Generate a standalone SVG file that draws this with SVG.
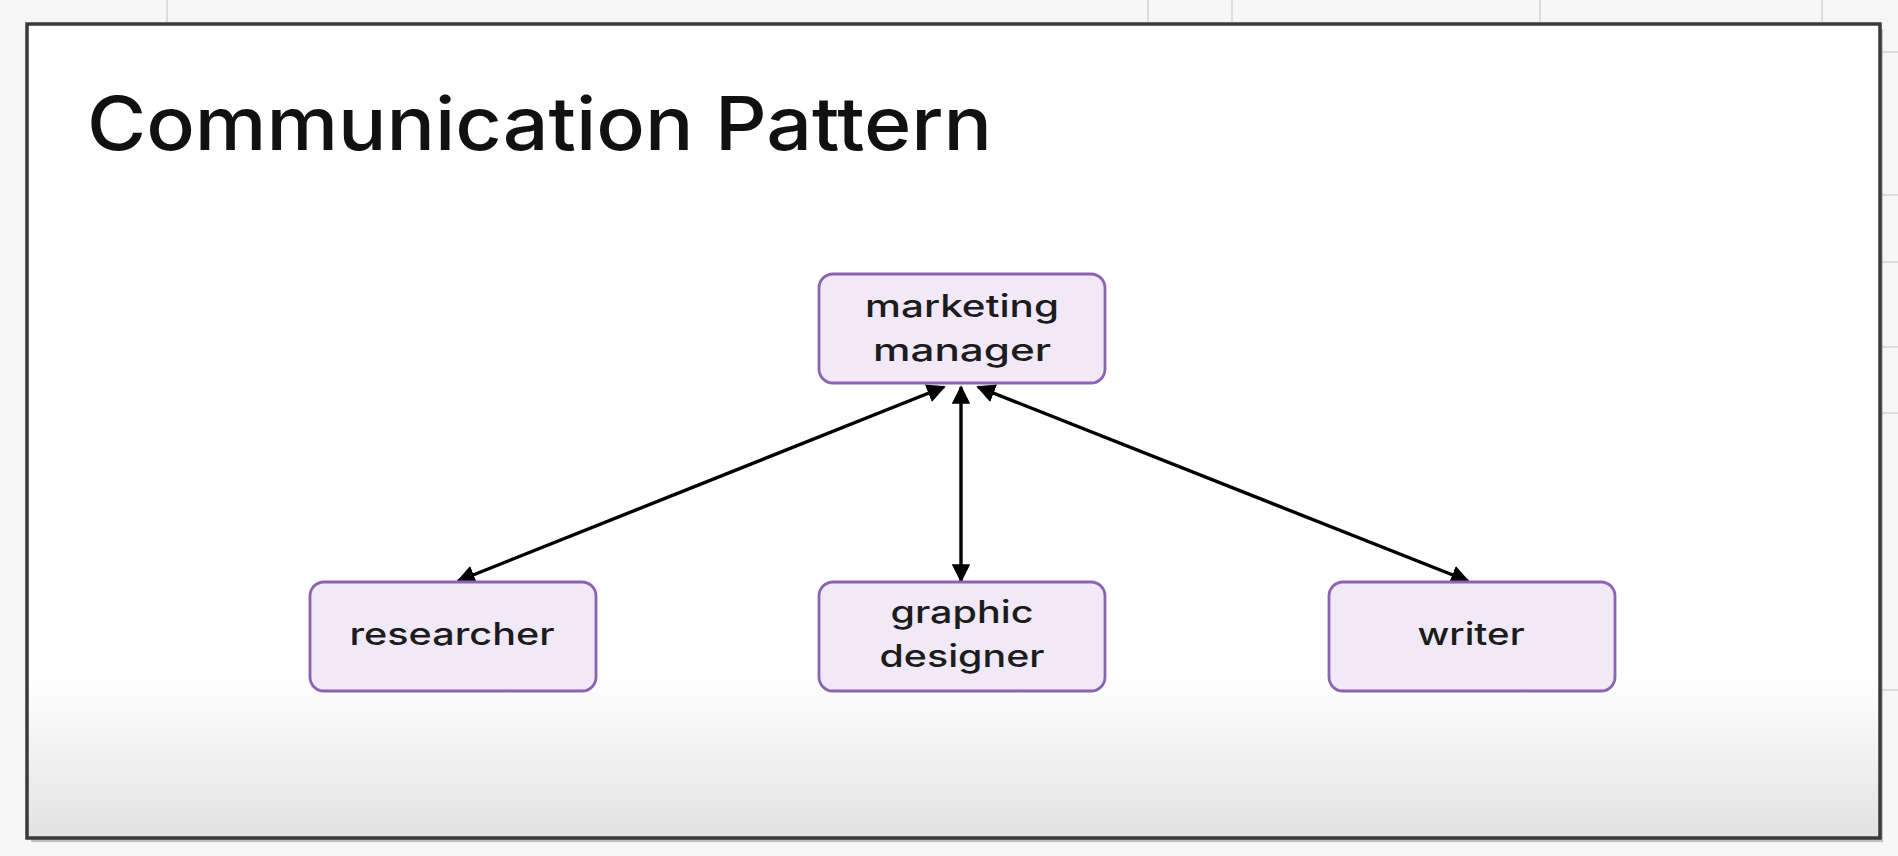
<svg xmlns="http://www.w3.org/2000/svg" width="1898" height="856" viewBox="0 0 1898 856">
<defs>
<linearGradient id="fade" x1="0" y1="0" x2="0" y2="1">
<stop offset="0" stop-color="#ffffff"/>
<stop offset="0.8" stop-color="#ffffff"/>
<stop offset="1" stop-color="#e2e2e2"/>
</linearGradient>
<marker id="ah" viewBox="0 0 10 10" refX="9" refY="5" markerWidth="5.5" markerHeight="5.5" orient="auto-start-reverse" markerUnits="strokeWidth">
<path d="M0,0 L10,5 L0,10 z" fill="#000"/>
</marker>
</defs>
<style>
.node rect{fill:#f1e9f8;stroke:#8a63b3;stroke-width:2.8}
.node text{font-family:Inter,"Liberation Sans",sans-serif;font-weight:500;font-size:31px;fill:#1c1c1c;text-anchor:middle}
.edge{stroke:#000;stroke-width:3.4;fill:none;marker-start:url(#ah);marker-end:url(#ah)}
.bg{stroke:#dcdcdc;stroke-width:2}
</style>
<rect width="1898" height="856" fill="#f6f6f6"/>
<g id="background">
<line class="bg" x1="167" y1="0" x2="167" y2="22"/>
<line class="bg" x1="1148" y1="0" x2="1148" y2="22"/>
<line class="bg" x1="1232" y1="0" x2="1232" y2="22"/>
<line class="bg" x1="1540" y1="0" x2="1540" y2="22"/>
<line class="bg" x1="1822" y1="0" x2="1822" y2="22"/>
<line class="bg" x1="1882" y1="52" x2="1898" y2="52"/>
<line class="bg" x1="1882" y1="195" x2="1898" y2="195"/>
<line class="bg" x1="1882" y1="262" x2="1898" y2="262"/>
<line class="bg" x1="1882" y1="347" x2="1898" y2="347"/>
<line class="bg" x1="1882" y1="413" x2="1898" y2="413"/>
<line class="bg" x1="1882" y1="690" x2="1898" y2="690"/>
</g>
<rect x="31" y="29" width="1852" height="813" fill="#8a8a8a" opacity="0.5"/>
<rect id="frame" x="27" y="24" width="1853" height="814" fill="url(#fade)" stroke="#3a3a3a" stroke-width="3.5"/>
<text id="title" x="87" y="150" font-family="Inter,'Liberation Sans',sans-serif" font-weight="500" font-size="74" fill="#111" textLength="905" lengthAdjust="spacingAndGlyphs">Communication Pattern</text>
<g id="connectors">
<line class="edge" x1="944" y1="387" x2="458" y2="581"/>
<line class="edge" x1="961" y1="387" x2="961" y2="581"/>
<line class="edge" x1="978" y1="387" x2="1468" y2="581"/>
</g>
<g id="marketing-manager" class="node">
<rect x="819" y="274" width="286" height="109" rx="14"/>
<text x="962" y="317" textLength="194" lengthAdjust="spacingAndGlyphs">marketing</text>
<text x="962" y="361" textLength="178" lengthAdjust="spacingAndGlyphs">manager</text>
</g>
<g id="researcher" class="node">
<rect x="310" y="582" width="286" height="109" rx="14"/>
<text x="452" y="645" textLength="205" lengthAdjust="spacingAndGlyphs">researcher</text>
</g>
<g id="graphic-designer" class="node">
<rect x="819" y="582" width="286" height="109" rx="14"/>
<text x="962" y="623" textLength="143" lengthAdjust="spacingAndGlyphs">graphic</text>
<text x="962" y="667" textLength="165" lengthAdjust="spacingAndGlyphs">designer</text>
</g>
<g id="writer" class="node">
<rect x="1329" y="582" width="286" height="109" rx="14"/>
<text x="1471" y="645" textLength="107" lengthAdjust="spacingAndGlyphs">writer</text>
</g>
</svg>
